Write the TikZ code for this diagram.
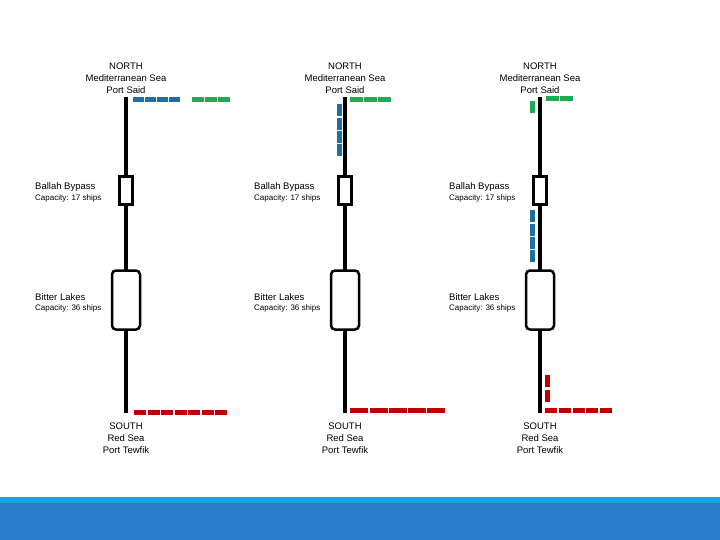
\documentclass[tikz,border=0pt]{standalone}
\usepackage{fontspec}
\setmainfont{Liberation Sans}
\begin{document}
\begin{tikzpicture}[x=1pt,y=-1pt,
 ch/.style={line width=3.5pt},
 box/.style={draw,line width=2.5pt,fill=white},
 seg/.style={line width=5pt},
 lab/.style={font=\fontsize{9.5}{12}\selectfont,align=center,inner sep=0pt},
 lft/.style={font=\fontsize{9.5}{11}\selectfont,anchor=west,inner sep=0pt},
 capt/.style={font=\fontsize{8}{9}\selectfont,anchor=west,inner sep=0pt}]
\definecolor{sb}{HTML}{1F6FA5}\definecolor{sg}{HTML}{1FAA55}\definecolor{sr}{HTML}{C00000}
\useasboundingbox (0,0) rectangle (720,540);
\fill[white] (0,0) rectangle (720,540);
\fill[color={rgb,255:red,28;green,160;blue,221}] (0,497) rectangle (720,503);
\fill[color={rgb,255:red,42;green,125;blue,200}] (0,503) rectangle (720,540);
\foreach \x/\n in {126/a,345/b,540/c}{
 \coordinate (\n top) at (\x,97); \coordinate (\n bot) at (\x,413);
 \draw[ch] (\n top) -- (\n bot);
 \node[box,minimum width=13pt,minimum height=28pt,inner sep=0pt] (\n bp) at (\x,190.5) {};
 \node[box,rounded corners=4pt,minimum width=28pt,minimum height=59pt,inner sep=0pt] (\n bl) at (\x,300) {};
 \node[lab] (\n n) at (\x,78) {NORTH\\Mediterranean Sea\\Port Said};
 \node[lab] (\n s) at (\x,438) {SOUTH\\Red Sea\\Port Tewfik};
 \node[lft] (\n bpt) at (\x-91,187) {Ballah Bypass};
 \node[capt] (\n bpc) at (\x-91,198.5) {Capacity: 17 ships};
 \node[lft] (\n blt) at (\x-91,297) {Bitter Lakes};
 \node[capt] (\n blc) at (\x-91,308.5) {Capacity: 36 ships};
}
% panel 1
\foreach \a in {133,145,157,169}{\draw[seg,sb] (\a,100) -- (\a+10.5,100);}
\foreach \a in {192,205,218}{\draw[seg,sg] (\a,100) -- (\a+11.5,100);}
\foreach \a in {134,148,161,175,188,202,215}{\draw[seg,sr] (\a,412) -- (\a+12,412);}
% panel 2
\foreach \a in {350,364,378}{\draw[seg,sg] (\a,100) -- (\a+12.5,100);}
\foreach \a in {104,118,131,144}{\draw[seg,sb] (339,\a) -- (339,\a+12);}
\foreach \a in {350,370,389,408,427}{\draw[seg,sr] (\a,410) -- (\a+17.5,410);}
% panel 3
\foreach \a in {546,560}{\draw[seg,sg] (\a,99) -- (\a+12.5,99);}
\draw[seg,sg] (532,101) -- (532,113);
\foreach \a in {210,224,237,250}{\draw[seg,sb] (532,\a) -- (532,\a+12);}
\foreach \a in {375,390}{\draw[seg,sr] (547,\a) -- (547,\a+12);}
\foreach \a in {545,559,573,586,600}{\draw[seg,sr] (\a,410) -- (\a+12,410);}
\end{tikzpicture}
\end{document}
